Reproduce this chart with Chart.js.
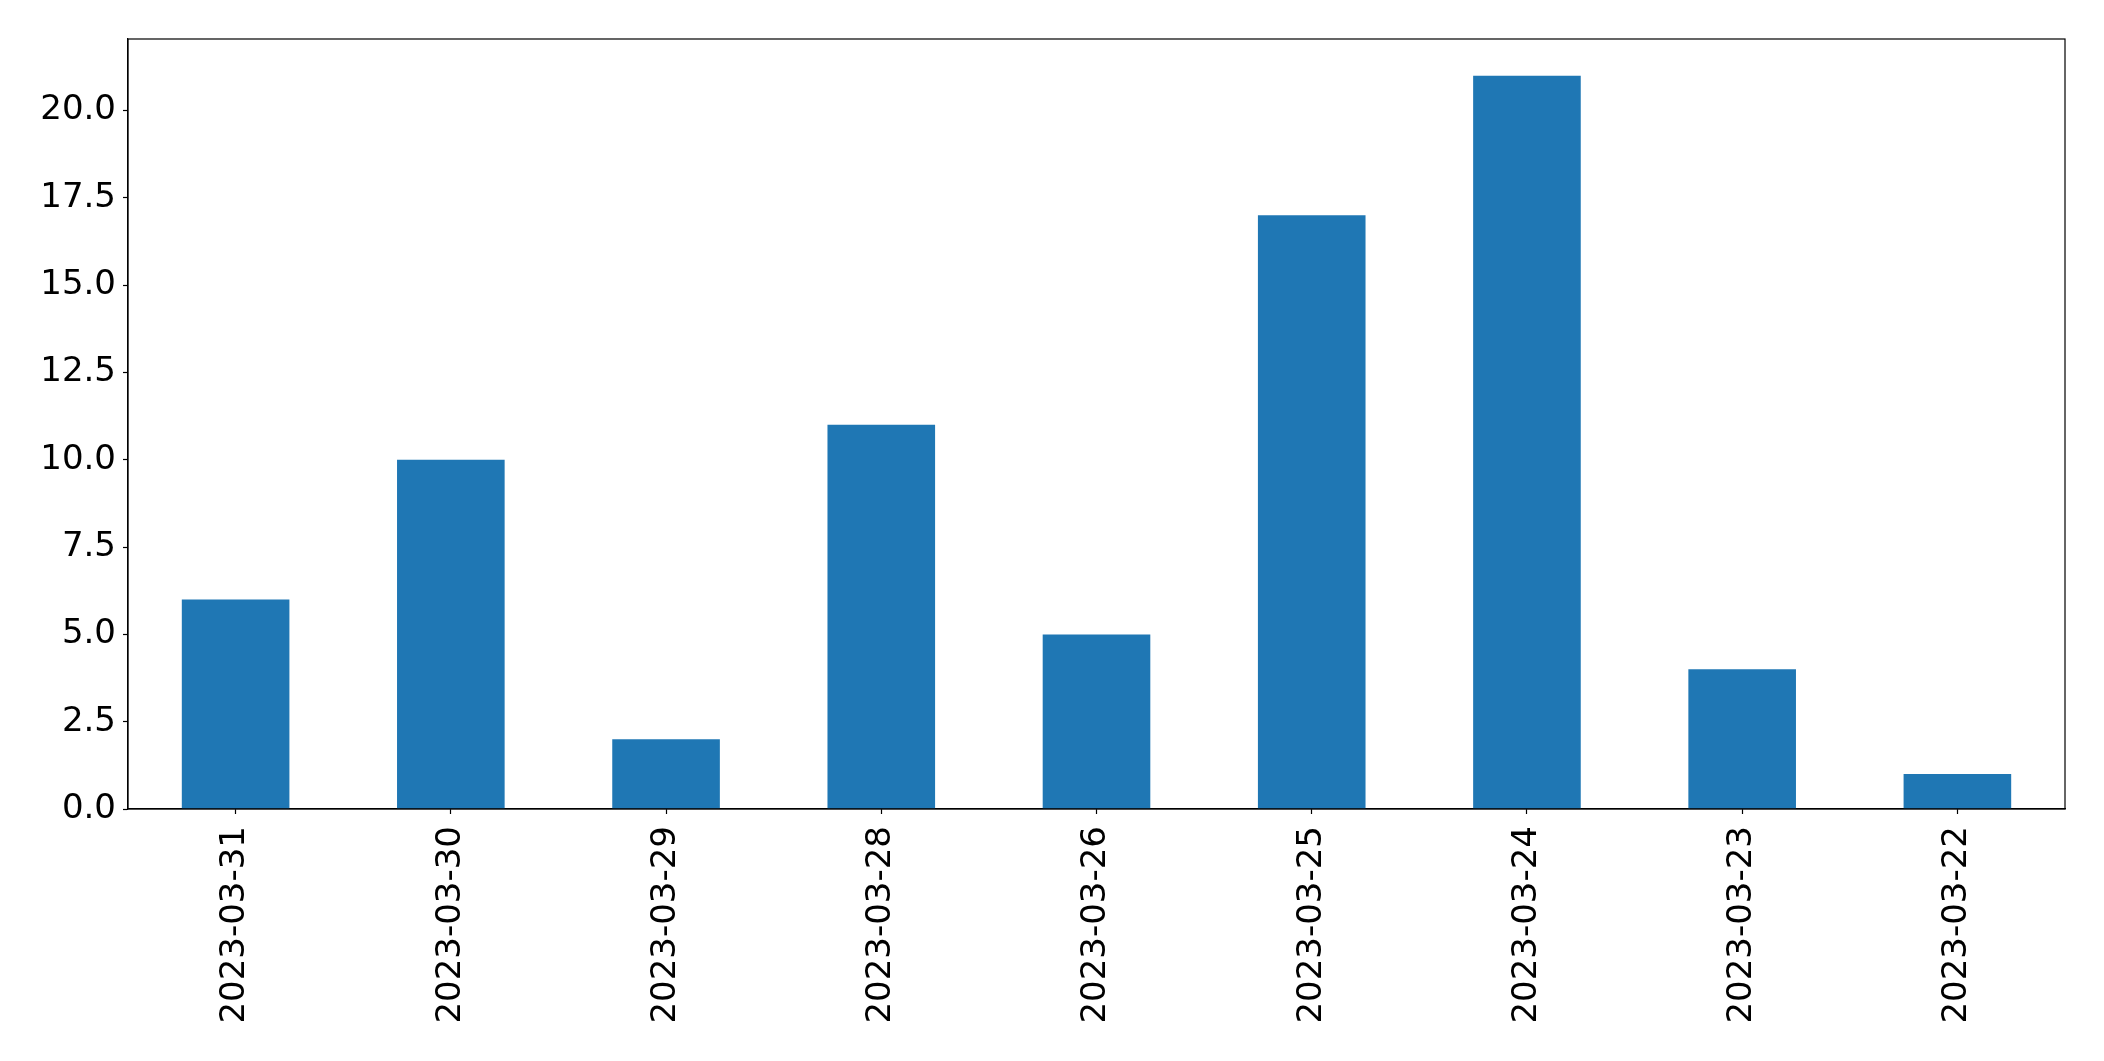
<!DOCTYPE html>
<html>
<head>
<meta charset="utf-8">
<script src="https://cdn.jsdelivr.net/npm/chart.js@4/dist/chart.umd.min.js"></script>
<style>
  html, body { margin: 0; padding: 0; background: #fff; }
  #wrap { width: 2104px; height: 1061px; }
</style>
</head>
<body>
<div id="wrap"><canvas id="chart" width="2104" height="1061"></canvas></div>
<script>
const dates = ["2023-03-31", "2023-03-30", "2023-03-29", "2023-03-28", "2023-03-26",
               "2023-03-25", "2023-03-24", "2023-03-23", "2023-03-22"];
const counts = [6, 10, 2, 11, 5, 17, 21, 4, 1];
const yTickStep = 2.5;
const yMax = 22.05;

const font = { family: "DejaVu Sans", size: 34 };

// draw the full box around the plot, like matplotlib spines
const frame = {
  id: "frame",
  afterDraw(chart) {
    const { ctx, chartArea: a } = chart;
    ctx.save();
    ctx.strokeStyle = "#000";
    ctx.lineWidth = 1.2;
    ctx.strokeRect(a.left, a.top, a.right - a.left, a.bottom - a.top);
    ctx.restore();
  }
};

new Chart(document.getElementById("chart").getContext("2d"), {
  type: "bar",
  data: {
    labels: dates,
    datasets: [{
      data: counts,
      backgroundColor: "#1f77b4",
      barPercentage: 0.5,
      categoryPercentage: 1.0,
    }]
  },
  options: {
    responsive: false,
    animation: false,
    layout: { padding: { top: 39, right: 39, left: 0, bottom: 0 } },
    plugins: { legend: { display: false }, tooltip: { enabled: false } },
    scales: {
      x: {
        afterFit(s) { s.height = 252; },
        grid: { offset: false, drawOnChartArea: false, tickLength: 5, tickColor: "#000", tickWidth: 1.2 },
        border: { color: "#000", width: 1.2 },
        ticks: { color: "#000", font, minRotation: 90, maxRotation: 90, padding: 12, autoSkip: false }
      },
      y: {
        min: 0,
        max: yMax,
        afterFit(s) { s.width = 128; },
        grid: { drawOnChartArea: false, tickLength: 5, tickColor: "#000", tickWidth: 1.2 },
        border: { color: "#000", width: 1.2 },
        ticks: {
          color: "#000", font, stepSize: yTickStep, includeBounds: false, padding: 7,
          callback: v => v.toFixed(1)
        }
      }
    }
  },
  plugins: [frame]
});
</script>
</body>
</html>
